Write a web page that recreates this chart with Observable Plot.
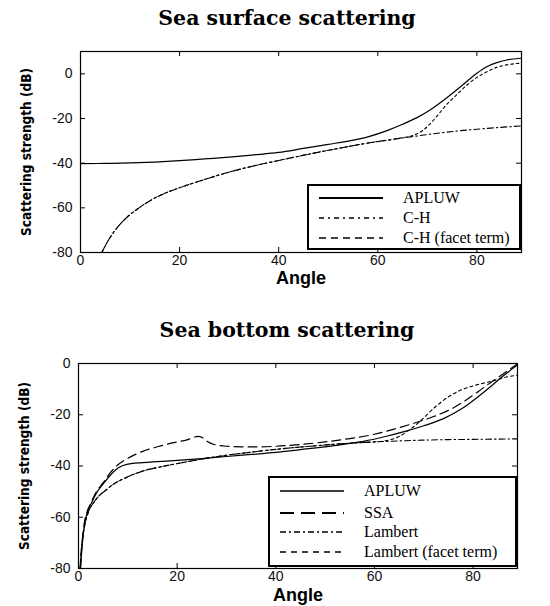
<!DOCTYPE html>
<html>
<head>
<meta charset="utf-8">
<script src="https://cdn.jsdelivr.net/npm/d3@7"></script>
<script src="https://cdn.jsdelivr.net/npm/@observablehq/plot@0.6"></script>
<style>
  body { margin: 0; background: #fff; }
  #wrap { position: relative; width: 550px; height: 606px; overflow: hidden; background: #fff; }
  .title { position: absolute; left: 24px; width: 526px; text-align: center; font: bold 20.5px "DejaVu Serif", "Liberation Serif", serif; color: #000; line-height: 24px; }
  .chart { position: absolute; left: 0; }
  .legend { position: absolute; background: #fff; border: 2px solid #000; box-sizing: border-box; font: 16px "Liberation Serif", "Times New Roman", serif; color: #000; }
  .legend .row { position: absolute; left: 0; height: 20px; width: 100%; }
  .legend .row svg { position: absolute; left: 10px; top: 7px; }
  .legend .row span { position: absolute; left: 94px; top: 0; line-height: 20px; white-space: nowrap; }
  g[aria-label="x-label"] text { letter-spacing: 1px; }
  g[aria-label="y-label"] text { letter-spacing: -0.3px; }
</style>
</head>
<body>
<div id="wrap"></div>
<script>
// ---------- shared axis ticks ----------
const xTicks = [0, 20, 40, 60, 80];
const yTicksSurface = [-80, -60, -40, -20, 0];
const yTicksBottom = [-80, -60, -40, -20, 0];

// ---------- Sea surface scattering ----------
const surfAngleAPLUW = [0, 5, 10, 15, 20, 25, 30, 35, 40, 45, 50, 55, 58, 62, 65, 68, 71, 74, 77, 80, 82, 84, 86, 89];
const surfAPLUW      = [-40.2, -40.1, -39.9, -39.5, -38.9, -38.1, -37.3, -36.3, -35.2, -33.4, -31.6, -29.7, -28.2, -25.3, -22.6, -19.5, -15.5, -10.6, -5.2, 0.3, 3.2, 5.0, 6.2, 7.0];

const surfAngleCH = [4.3, 5.5, 7, 9, 11.5, 14.5, 17, 20, 24.5, 30, 35, 40, 46, 52, 58, 64, 68, 72, 76, 80, 84, 89];
const surfCH      = [-80, -75, -70, -65, -60.5, -56.2, -53.5, -51, -47.7, -44, -41.2, -38.8, -36, -33.4, -31, -29, -27.8, -26.6, -25.6, -24.8, -24.1, -23.3];

const surfAngleCHFacet = [4.3, 5.5, 7, 9, 11.5, 14.5, 17, 20, 24.5, 30, 35, 40, 46, 52, 58, 64, 67, 69, 70.5, 72, 74, 76, 78, 80, 82, 84, 86, 89];
const surfCHFacet      = [-80, -75, -70, -65, -60.5, -56.2, -53.5, -51, -47.7, -44, -41.2, -38.8, -36, -33.4, -31, -29, -27.6, -25.5, -22.5, -18.8, -13.5, -9.2, -5, -1.6, 0.9, 2.9, 4.0, 4.8];

// ---------- Sea bottom scattering ----------
const botAngleAPLUW = [0.4, 0.8, 1.2, 1.8, 2.5, 3.5, 5, 6.5, 8, 10, 13, 16, 20, 25, 30, 35, 40, 45, 50, 55, 58, 62, 66, 70, 74, 78, 81, 84, 86, 88, 89];
const botAPLUW      = [-80, -70, -63, -58, -55, -51, -47, -43.5, -40.8, -39.3, -38.7, -38.3, -37.8, -37.1, -36.3, -35.5, -34.7, -33.6, -32.5, -31.2, -30.3, -28.6, -26.6, -24.3, -21.5, -17.3, -13, -8.3, -5, -2, -0.5];

const botAngleSSA = [0.4, 0.8, 1.2, 1.8, 2.5, 3.5, 5, 6.5, 8, 10, 13, 16, 19, 22, 24.3, 25, 26, 27.5, 30, 33, 37, 40, 45, 50, 55, 60, 64, 68, 72, 75, 78, 81, 84, 86, 88, 89];
const botSSA      = [-80, -68, -62, -57.5, -54.5, -50.5, -46.5, -42.5, -39.5, -37, -34.3, -32.5, -31, -29.8, -28.4, -28.8, -30.3, -31.6, -32.3, -32.5, -32.5, -32.3, -31.6, -30.6, -29.3, -27.6, -25.6, -23.3, -20.7, -18.3, -15, -11, -6.8, -4.2, -1.5, 0];

const botAngleLambert = [0.3, 0.6, 1, 2, 3, 4, 5.5, 7, 10, 13, 17, 21, 25, 30, 35, 40, 45, 50, 55, 60, 65, 70, 75, 80, 85, 89];
const botLambert      = [-80, -72, -66, -58, -54.5, -52, -49.5, -47.2, -44.2, -42, -40.2, -38.7, -37.3, -35.8, -34.6, -33.5, -32.6, -31.8, -31.1, -30.6, -30.2, -29.9, -29.7, -29.6, -29.5, -29.4];

const botAngleLambertFacet = [0.3, 0.6, 1, 2, 3, 4, 5.5, 7, 10, 13, 17, 21, 25, 30, 35, 40, 45, 50, 55, 60, 62, 65, 67, 69, 72, 75, 78, 81, 84, 87, 89];
const botLambertFacet      = [-80, -72, -66, -58, -54.5, -52, -49.5, -47.2, -44.2, -42, -40.2, -38.7, -37.3, -35.8, -34.6, -33.5, -32.6, -31.8, -31.1, -30.6, -30.2, -28.5, -26, -23, -17.5, -13, -10, -8.2, -6.8, -5.2, -4.5];

// ---------- helpers ----------
const rows = (series, angles, values) => angles.map((a, i) => ({series, angle: a, value: values[i]}));

function makeChart({height, marginTop, marginRight, marginBottom, marginLeft, yDomain, yTicks, lines, labelDy}) {
  const width = 550;
  const plotH = height - marginTop - marginBottom;
  const plotW = width - marginLeft - marginRight;
  const inner = xTicks.filter(d => d > 0);
  const innerY = yTicks.filter(d => d > yDomain[0] && d < yDomain[1]);
  return Plot.plot({
    width, height, marginTop, marginRight, marginBottom, marginLeft,
    x: {domain: [0, 89]},
    y: {domain: yDomain},
    style: {fontFamily: "'Liberation Sans', Arial, sans-serif", fontSize: "14px", color: "#111", background: "#fff"},
    marks: [
      Plot.axisX(xTicks, {tickSize: 0, tickPadding: 3, tickFormat: d => String(d), label: null, fontSize: 14}),
      Plot.axisY(yTicks, {tickSize: 0, tickPadding: 8, tickFormat: d => String(d), label: null, fontSize: 14}),
      Plot.tickX(inner, {x: d => d, insetTop: plotH - 5, stroke: "#000"}),
      Plot.tickX(inner, {x: d => d, insetBottom: plotH - 5, stroke: "#000"}),
      Plot.tickY(innerY, {y: d => d, insetRight: plotW - 5, stroke: "#000"}),
      Plot.tickY(innerY, {y: d => d, insetLeft: plotW - 5, stroke: "#000"}),
      ...lines.map(l => Plot.line(l.data, {x: "angle", y: "value", stroke: "#000", strokeWidth: l.width, strokeDasharray: l.dash, curve: "monotone-x", clip: true})),
      Plot.frame({stroke: "#000", strokeWidth: 1.2}),
      Plot.text(["Angle"], {text: d => d, frameAnchor: "bottom", lineAnchor: "middle", textAnchor: "middle", dy: labelDy, fontSize: 18, fontWeight: "bold", fill: "#000", ariaLabel: "x-label"}),
      Plot.text(["Scattering strength (dB)"], {text: d => d, frameAnchor: "left", textAnchor: "middle", lineAnchor: "middle", rotate: -90, dx: -54, fontSize: 13.5, fontWeight: "bold", fill: "#000", ariaLabel: "y-label",
        fontFamily: "'Liberation Sans Narrow', 'DejaVu Sans Condensed', 'Liberation Sans', sans-serif"})
    ]
  });
}

function legend(entries, box) {
  const el = document.createElement("div");
  el.className = "legend";
  Object.assign(el.style, {left: box.left + "px", top: box.top + "px", width: box.width + "px", height: box.height + "px"});
  entries.forEach((e, i) => {
    const row = document.createElement("div");
    row.className = "row";
    row.style.top = box.rowTops[i] + "px";
    row.innerHTML = `<svg width="64" height="6"><line x1="0" y1="3" x2="64" y2="3" stroke="#000" stroke-width="${e.lw}" stroke-dasharray="${e.dash || ""}"/></svg><span>${e.label}</span>`;
    el.appendChild(row);
  });
  return el;
}

const wrap = document.getElementById("wrap");

// ---- top chart ----
const t1 = document.createElement("div");
t1.className = "title"; t1.style.top = "6px"; t1.textContent = "Sea surface scattering";
wrap.appendChild(t1);

const c1 = makeChart({
  height: 262, marginTop: 21, marginRight: 29, marginBottom: 40, marginLeft: 80, labelDy: 26,
  yDomain: [-80, 10], yTicks: yTicksSurface,
  lines: [
    {data: rows("APLUW", surfAngleAPLUW, surfAPLUW), width: 1.2, dash: null},
    {data: rows("C-H", surfAngleCH, surfCH), width: 1.1, dash: "6,3,1.5,3"},
    {data: rows("C-H (facet term)", surfAngleCHFacet, surfCHFacet), width: 1.1, dash: "2.5,3"}
  ]
});
c1.classList.add("chart"); c1.style.top = "30px";
wrap.appendChild(c1);

wrap.appendChild(legend([
  {label: "APLUW", lw: 2, dash: null},
  {label: "C-H", lw: 1.5, dash: "5,4,2,4"},
  {label: "C-H (facet term)", lw: 1.5, dash: "7,5"}
], {left: 307, top: 184, width: 214, height: 66, rowTops: [2, 22, 42]}));

// ---- bottom chart ----
const t2 = document.createElement("div");
t2.className = "title"; t2.style.top = "318px"; t2.textContent = "Sea bottom scattering";
wrap.appendChild(t2);

const c2 = makeChart({
  height: 263, marginTop: 20, marginRight: 33, marginBottom: 38, marginLeft: 78, labelDy: 27,
  yDomain: [-80, 0], yTicks: yTicksBottom,
  lines: [
    {data: rows("APLUW", botAngleAPLUW, botAPLUW), width: 1.2, dash: null},
    {data: rows("SSA", botAngleSSA, botSSA), width: 1.2, dash: "9,5"},
    {data: rows("Lambert", botAngleLambert, botLambert), width: 1.1, dash: "6,3,1.5,3"},
    {data: rows("Lambert (facet term)", botAngleLambertFacet, botLambertFacet), width: 1.1, dash: "3,3"}
  ]
});
c2.classList.add("chart"); c2.style.top = "343px";
wrap.appendChild(c2);

wrap.appendChild(legend([
  {label: "APLUW", lw: 1.5, dash: null},
  {label: "SSA", lw: 2.2, dash: "14,7"},
  {label: "Lambert", lw: 1.5, dash: "6,3,2,3"},
  {label: "Lambert (facet term)", lw: 1.5, dash: "6,5"}
], {left: 268, top: 476, width: 249, height: 91, rowTops: [3, 25, 44, 64]}));
</script>
</body>
</html>
